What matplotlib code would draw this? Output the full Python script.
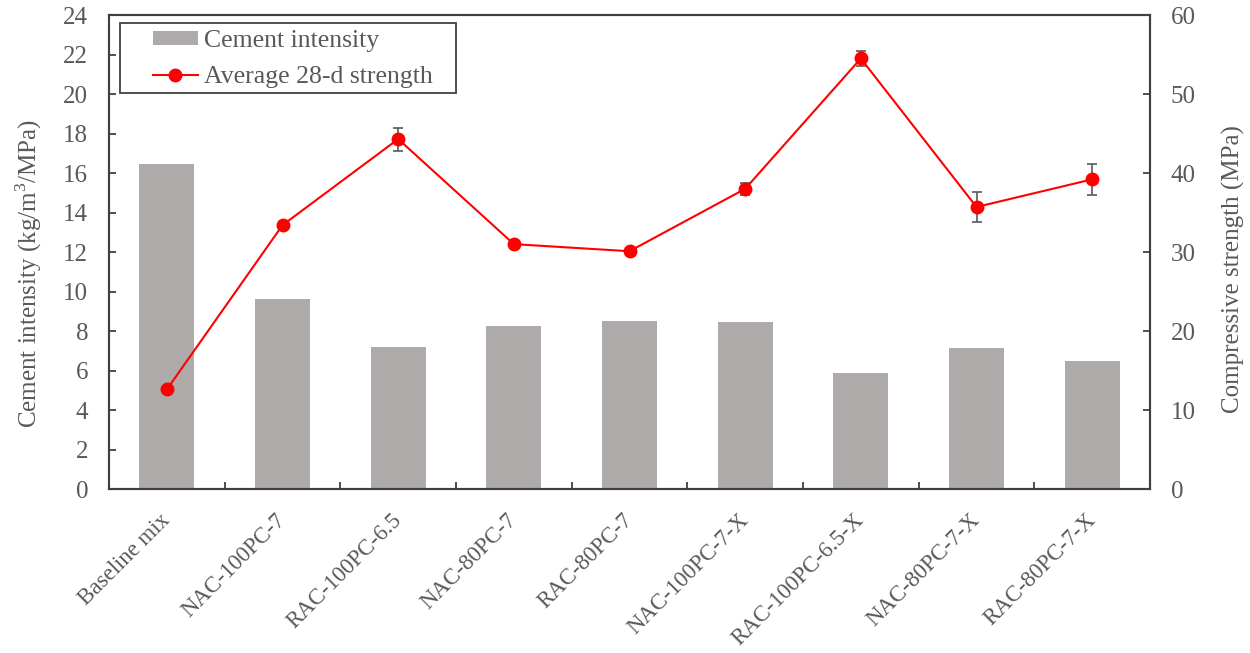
import numpy as np
import matplotlib
matplotlib.use("Agg")
import matplotlib.pyplot as plt
from matplotlib.patches import Rectangle

plt.rcParams['font.family'] = ['Liberation Serif', 'DejaVu Serif']
plt.rcParams['mathtext.fontset'] = 'custom'
plt.rcParams['mathtext.rm'] = 'Liberation Serif'

mixes = ['Baseline mix', 'NAC-100PC-7', 'RAC-100PC-6.5', 'NAC-80PC-7', 'RAC-80PC-7',
         'NAC-100PC-7-X', 'RAC-100PC-6.5-X', 'NAC-80PC-7-X', 'RAC-80PC-7-X']
cement_intensity = [16.45, 9.6, 7.2, 8.25, 8.5, 8.45, 5.85, 7.15, 6.5]
strength_28d = [12.6, 33.4, 44.3, 31.0, 30.1, 38.0, 54.5, 35.7, 39.2]
strength_err = [0.2, 0.3, 1.45, 0.3, 0.4, 0.75, 1.0, 1.9, 2.0]

text_col = '#595959'
bar_col = '#aeaaaa'
axis_col = '#404040'
fs = 18

fig = plt.figure(figsize=(12.5, 6.53), dpi=100)
ax = fig.add_axes([0.0872, 0.2511, 0.8328, 0.7259])
ax2 = ax.twinx()

x = np.arange(len(mixes))
ax.bar(x, cement_intensity, width=0.475, color=bar_col, label='Cement intensity', zorder=1)
ax2.errorbar(x, strength_28d, yerr=strength_err, fmt='none', ecolor=text_col,
             elinewidth=1.2, capsize=3.5, capthick=1.2, zorder=2)
ax2.plot(x, strength_28d, color='red', linewidth=1.5, marker='o', markersize=9,
         label='Average 28-d strength', zorder=3)

ax.set_xlim(-0.5, len(mixes) - 0.5)
ax.set_ylim(0, 24)
ax.set_yticks(np.arange(0, 25, 2))
ax2.set_ylim(0, 60)
ax2.set_yticks(np.arange(0, 61, 10))

# category boundaries get the tick marks, labels sit at the bar centres
ax.set_xticks(np.arange(len(mixes) + 1) - 0.5)
ax.set_xticklabels([])
ax.set_xticks(x, minor=True)
ax.set_xticklabels(mixes, minor=True, rotation=45, ha='right', va='center',
                   rotation_mode='anchor', fontsize=16.5, color=text_col)
ax.tick_params(axis='x', which='minor', length=0, pad=20)
ax.tick_params(axis='x', which='major', direction='in', length=5, width=1.3, color=axis_col)
ax.tick_params(axis='y', direction='in', length=5, width=1.3, labelsize=fs,
               labelcolor=text_col, pad=15, color=axis_col)
ax2.tick_params(axis='y', direction='in', length=5, width=1.3, labelsize=fs,
                labelcolor=text_col, pad=15, color=axis_col)

ax.set_ylabel('Cement intensity (kg/m$^3$/MPa)', fontsize=fs, color=text_col)
ax2.set_ylabel('Compressive strength (MPa)', fontsize=fs, color=text_col)
ax.yaxis.set_label_coords(-0.062, 0.455)
ax2.yaxis.set_label_coords(1.069, 0.464)

for a in (ax, ax2):
    for s in a.spines.values():
        s.set_linewidth(1.5)
        s.set_color(axis_col)

h1, l1 = ax.get_legend_handles_labels()
h2, l2 = ax2.get_legend_handles_labels()
leg = ax2.legend(h1 + h2, l1 + l2, loc='upper left', bbox_to_anchor=(153 / 1250, 1 - 30 / 653),
                 bbox_transform=fig.transFigure, fontsize=18.5, frameon=False,
                 borderpad=0, borderaxespad=0, handlelength=1.75, handleheight=0.5,
                 handletextpad=0.25, labelspacing=0.55)
for t in leg.get_texts():
    t.set_color(text_col)
fig.add_artist(Rectangle((120 / 1250, 1 - 93 / 653), 336 / 1250, 70 / 653,
                         transform=fig.transFigure, fill=False,
                         edgecolor=axis_col, linewidth=1.3))

fig.savefig('out.png', dpi=100)
